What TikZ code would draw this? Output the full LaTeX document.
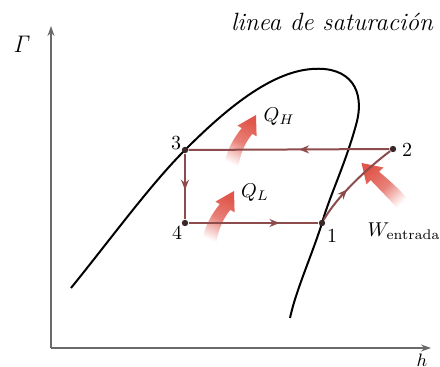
\documentclass[tikz,border=0pt]{standalone}
\usetikzlibrary{decorations.markings,arrows.meta}
\definecolor{cyc}{HTML}{8E4B4B}
\definecolor{axc}{HTML}{6A6A6A}
\definecolor{bigr}{HTML}{E0564A}
\definecolor{dotc}{HTML}{3A2828}
\begin{document}
\begin{tikzpicture}[x=0.5pt,y=-0.5pt,
  axis/.style={draw=axc, line width=0.7pt, -{Stealth[length=5pt,width=3.5pt]}},
  satcurve/.style={draw=black, line width=1pt},
  cycline/.style={draw=cyc, line width=1pt},
  midarrow/.style={postaction={decorate}, decoration={markings, mark=at position #1 with {\arrow{Stealth[length=5pt,width=4pt]}}}},
  dot/.style={circle, fill=dotc, inner sep=0pt, minimum size=3.2pt},
  lbl/.style={font=\fontsize{10}{12}\selectfont, inner sep=1pt},
  bigarrow/.style={top color=bigr, bottom color=white, middle color=bigr!75}
]
\useasboundingbox (0,0) rectangle (440,367);

% axes
\coordinate (O) at (51,348);
\coordinate (ytop) at (51,26);
\coordinate (xend) at (431,348);
\draw[axis] (O) -- (ytop);
\draw[axis] (O) -- (xend);
\node[font=\fontsize{12}{14}\selectfont] (P) at (22,44) {$\mathit{\Gamma}$};
\node[font=\fontsize{9}{11}\selectfont] (h) at (422,360) {$h$};
\node[font=\itshape\fontsize{12.5}{15}\selectfont] (title) at (332,22) {linea de saturación};

% saturation curve
\draw[satcurve] (71,288) .. controls (110,240) and (150,185) .. (185,150)
  .. controls (225,110) and (270,72) .. (312,69)
  .. controls (350,66) and (366,90) .. (356,125)
  .. controls (345,165) and (330,195) .. (322,223)
  .. controls (312,255) and (296,290) .. (290,318);

% big shaded arrows
\shade[bigarrow, shading angle=-26] (224,167) .. controls (226,150) and (234,138) .. (241.7,128.1) -- (237.4,125.7) -- (256,115) -- (256.6,136.3) -- (252.3,133.9) .. controls (244,144) and (240,155) .. (238,169) -- cycle;
\begin{scope}[shift={(-22,76)}]
\shade[bigarrow, shading angle=-26] (224,167) .. controls (226,150) and (234,138) .. (241.7,128.1) -- (237.4,125.7) -- (256,115) -- (256.6,136.3) -- (252.3,133.9) .. controls (244,144) and (240,155) .. (238,169) -- cycle;
\end{scope}
\shade[bigarrow, shading angle=45] (408.9,200.1) .. controls (398,188) and (390,181) .. (379.2,171.8) -- (383.5,167.5) -- (361.5,163) -- (366.5,184.5) -- (370.8,180.2) .. controls (380,190) and (390,200) .. (399.1,209.9) -- cycle;

% cycle points
\node[dot] (p1) at (322,223) {};
\node[dot] (p2) at (393,149) {};
\node[dot] (p3) at (185,150) {};
\node[dot] (p4) at (185,223) {};

% cycle lines
\draw[cycline, midarrow=0.45] (p2) -- (p3);
\draw[cycline, midarrow=0.55] (p3) -- (p4);
\draw[cycline, midarrow=0.7] (p4) -- (p1);
\draw[cycline, midarrow=0.4] (p1) .. controls (336,198) and (365,170) .. (p2);

% labels
\node[lbl] (l3) at (176,143) {3};
\node[lbl] (l2) at (407,150) {2};
\node[lbl] (l4) at (177,233) {4};
\node[lbl] (l1) at (332,236) {1};
\node[lbl] (QH) at (279,117) {$Q_H$};
\node[lbl] (QL) at (255,193) {$Q_L$};
\node[lbl] (W) at (404,231) {$W_{\mathrm{entrada}}$};
\end{tikzpicture}
\end{document}
